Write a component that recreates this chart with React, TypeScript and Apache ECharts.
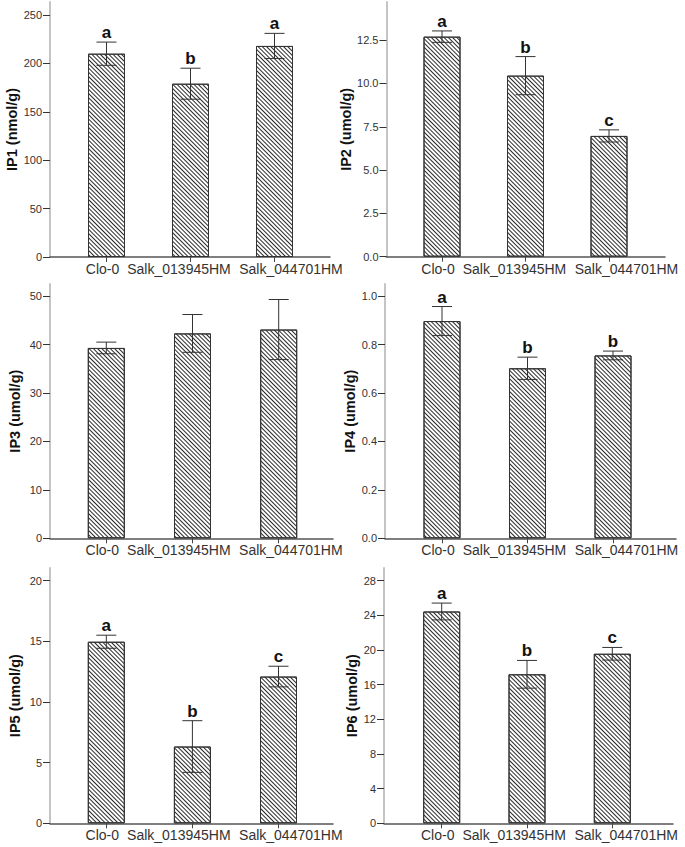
import React, { useEffect, useRef } from "react";
import * as echarts from "echarts";

const categories = ["Clo-0", "Salk_013945HM", "Salk_044701HM"];

const ip1Mean = [210, 179, 218];
const ip1Err = [12, 16, 13];
const ip1Letters = ["a", "b", "a"];

const ip2Mean = [12.7, 10.45, 6.97];
const ip2Err = [0.33, 1.1, 0.35];
const ip2Letters = ["a", "b", "c"];

const ip3Mean = [39.3, 42.3, 43.1];
const ip3Err = [1.2, 3.9, 6.2];
const ip3Letters = ["", "", ""];

const ip4Mean = [0.897, 0.702, 0.755];
const ip4Err = [0.06, 0.046, 0.018];
const ip4Letters = ["a", "b", "b"];

const ip5Mean = [14.97, 6.33, 12.1];
const ip5Err = [0.54, 2.13, 0.85];
const ip5Letters = ["a", "b", "c"];

const ip6Mean = [24.45, 17.2, 19.57];
const ip6Err = [0.97, 1.6, 0.73];
const ip6Letters = ["a", "b", "c"];

const ip1Ticks = [0, 50, 100, 150, 200, 250];
const ip2Ticks = [0, 2.5, 5, 7.5, 10, 12.5];
const ip3Ticks = [0, 10, 20, 30, 40, 50];
const ip4Ticks = [0, 0.2, 0.4, 0.6, 0.8, 1.0];
const ip5Ticks = [0, 5, 10, 15, 20];
const ip6Ticks = [0, 4, 8, 12, 16, 20, 24, 28];

const yTitles = [
  "IP1 (nmol/g)",
  "IP2 (umol/g)",
  "IP3 (umol/g)",
  "IP4 (umol/g)",
  "IP5 (umol/g)",
  "IP6 (umol/g)",
];

const panelsData = [
  { mean: ip1Mean, err: ip1Err, letters: ip1Letters, ticks: ip1Ticks, yMax: 263.4, decimals: 0 },
  { mean: ip2Mean, err: ip2Err, letters: ip2Letters, ticks: ip2Ticks, yMax: 14.7, decimals: 1 },
  { mean: ip3Mean, err: ip3Err, letters: ip3Letters, ticks: ip3Ticks, yMax: 52.5, decimals: 0 },
  { mean: ip4Mean, err: ip4Err, letters: ip4Letters, ticks: ip4Ticks, yMax: 1.05, decimals: 1 },
  { mean: ip5Mean, err: ip5Err, letters: ip5Letters, ticks: ip5Ticks, yMax: 21.05, decimals: 0 },
  { mean: ip6Mean, err: ip6Err, letters: ip6Letters, ticks: ip6Ticks, yMax: 29.47, decimals: 0 },
];

// layout (pixels): axis x, first bar centre, spacing, right end, top, bottom, name gap
const layout = [
  { left: 50, c0: 106.5, sp: 84, right: 330, top: 2, bottom: 257, gap: 29 },
  { left: 386.5, c0: 442, sp: 83.5, right: 665, top: 2, bottom: 256.7, gap: 30 },
  { left: 50, c0: 106.3, sp: 86.2, right: 333, top: 284, bottom: 538.3, gap: 28 },
  { left: 385, c0: 442, sp: 85.5, right: 676, top: 284, bottom: 538.3, gap: 26.5 },
  { left: 50, c0: 106.3, sp: 86.1, right: 333, top: 568, bottom: 823.3, gap: 27.5 },
  { left: 384, c0: 441.7, sp: 85.3, right: 673, top: 568, bottom: 823.3, gap: 25 },
];
// label centres in px relative to the first bar centre (labels are spread so they don't collide)
const labelOffsets = [-4, 72.5, 184.5];

const FONT = "'Liberation Sans', Arial, sans-serif";

export default function App() {
  const ref = useRef<HTMLDivElement>(null);

  useEffect(() => {
    if (!ref.current) return;
    const chart = echarts.init(ref.current, undefined, { renderer: "svg" });

    const grids: any[] = [];
    const xAxes: any[] = [];
    const yAxes: any[] = [];
    const series: any[] = [];

    panelsData.forEach((p, i) => {
      const L = layout[i];
      grids.push({
        left: L.left,
        top: L.top,
        width: L.right - L.left,
        height: L.bottom - L.top,
        containLabel: false,
        outerBoundsMode: "none",
      });
      const xMin = -(L.c0 - L.left) / L.sp;
      const xMax = (L.right - L.c0) / L.sp;
      const labelVals = labelOffsets.map((o) => o / L.sp);
      xAxes.push({
        type: "value",
        gridIndex: i,
        min: xMin,
        max: xMax,
        splitLine: { show: false },
        axisLine: { show: true, onZero: false, lineStyle: { color: "#555", width: 1.5 } },
        axisTick: {
          show: true,
          customValues: [0, 1, 2],
          length: 5,
          lineStyle: { color: "#444", width: 1 },
        },
        axisLabel: {
          customValues: labelVals,
          formatter: (v: number) => {
            let best = 0;
            labelVals.forEach((lv, k) => {
              if (Math.abs(lv - v) < Math.abs(labelVals[best] - v)) best = k;
            });
            return categories[best];
          },
          fontFamily: FONT,
          fontSize: 14,
          color: "#333",
          margin: 5,
          showMinLabel: true,
          showMaxLabel: true,
          hideOverlap: false,
        },
      });
      yAxes.push({
        type: "value",
        gridIndex: i,
        min: 0,
        max: p.yMax,
        name: yTitles[i],
        nameLocation: "middle",
        nameRotate: 90,
        nameGap: L.gap,
        nameTextStyle: {
          fontFamily: FONT,
          fontSize: 14.5,
          fontWeight: "bold",
          color: "#111",
        },
        splitLine: { show: false },
        axisLine: { show: true, onZero: false, lineStyle: { color: "#c4c4c4", width: 2 } },
        axisTick: {
          show: true,
          customValues: p.ticks,
          length: 7,
          lineStyle: { color: "#333", width: 1 },
        },
        axisLabel: {
          customValues: p.ticks,
          formatter: (v: number) => v.toFixed(p.decimals),
          fontFamily: FONT,
          fontSize: 11,
          color: "#333",
          margin: 8,
          showMinLabel: true,
          showMaxLabel: true,
        },
      });

      series.push({
        type: "bar",
        xAxisIndex: i,
        yAxisIndex: i,
        barWidth: 37,
        data: p.mean.map((m, k) => [k, m]),
        itemStyle: {
          color: "#ffffff",
          borderColor: "#333",
          borderWidth: 1,
          decal: {
            symbol: "rect",
            symbolSize: 1,
            color: "#2a2a2a",
            backgroundColor: "#ffffff",
            dashArrayX: [1, 0],
            dashArrayY: [1, 1.4],
            rotation: Math.PI / 4,
          },
        },
        emphasis: { disabled: true },
        silent: true,
      });

      series.push({
        type: "custom",
        xAxisIndex: i,
        yAxisIndex: i,
        z: 5,
        silent: true,
        data: p.mean.map((m, k) => [k, m, p.err[k]]),
        encode: { x: 0, y: 1 },
        renderItem: (params: any, api: any) => {
          const idx = api.value(0);
          const m = api.value(1);
          const e = api.value(2);
          const letter = p.letters[idx];
          const top = api.coord([idx, m + e]);
          const bot = api.coord([idx, m - e]);
          const cap = 10;
          const stroke = { stroke: "#333", lineWidth: 1 };
          const children: any[] = [
            { type: "line", shape: { x1: top[0], y1: top[1], x2: bot[0], y2: bot[1] }, style: stroke },
            { type: "line", shape: { x1: top[0] - cap, y1: top[1], x2: top[0] + cap, y2: top[1] }, style: stroke },
            { type: "line", shape: { x1: bot[0] - cap, y1: bot[1], x2: bot[0] + cap, y2: bot[1] }, style: stroke },
          ];
          if (letter) {
            children.push({
              type: "text",
              x: top[0],
              y: top[1] - 1,
              style: {
                text: letter,
                fill: "#111",
                font: `bold 17px ${FONT}`,
                align: "center",
                verticalAlign: "bottom",
              },
            });
          }
          return { type: "group", children };
        },
      });
    });

    chart.setOption({
      animation: false,
      backgroundColor: "#ffffff",
      grid: grids,
      xAxis: xAxes,
      yAxis: yAxes,
      series,
    });

    return () => chart.dispose();
  }, []);

  return (
    <div
      ref={ref}
      style={{ position: "absolute", left: 0, top: 0, width: 685, height: 847, background: "#fff" }}
    />
  );
}
